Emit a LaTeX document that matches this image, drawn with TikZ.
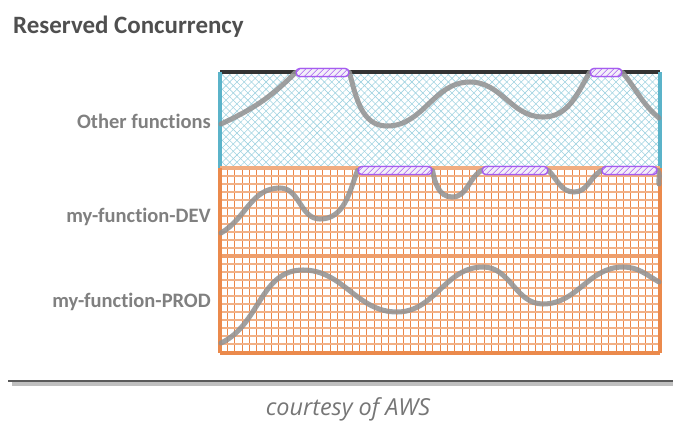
\documentclass[tikz,border=0pt]{standalone}
\usepackage{fontspec}
\setmainfont{Carlito}[Ligatures=NoCommon]
\newfontfamily\creditfont{Open Sans}
\usetikzlibrary{patterns.meta}
\definecolor{titlegray}{HTML}{4F4F4F}
\definecolor{labelgray}{HTML}{808080}
\definecolor{creditgray}{HTML}{767676}
\definecolor{cyanedge}{HTML}{5BB3C9}
\definecolor{cyanhatch}{HTML}{9FD2E0}
\definecolor{orangeedge}{HTML}{E8762D}
\definecolor{orangegrid}{HTML}{EC8647}
\definecolor{orangelight}{HTML}{F2B186}
\definecolor{pilledge}{HTML}{A55CF0}
\definecolor{pillfill}{HTML}{F3EFF9}
\definecolor{loadgray}{HTML}{939393}
\newcommand{\pxu}{0.03cm}

\begin{document}
\begin{tikzpicture}[
  x=\pxu,y=-\pxu,
  title/.style={font=\bfseries\fontsize{21.3}{24}\selectfont,text=titlegray,anchor=west,inner sep=0},
  lane/.style={font=\bfseries\fontsize{17.5}{20}\selectfont,text=labelgray,anchor=east,inner sep=0},
  credit/.style={font=\creditfont\itshape\fontsize{20}{24}\selectfont,text=creditgray,inner sep=0},
  pill/.style={draw=pilledge,line width=1.1pt,rounded corners=3.4pt,minimum height=7pt,inner sep=0,
    preaction={fill=pillfill},pattern={Lines[angle=45,distance=4pt,line width=1pt]},pattern color=pilledge!75},
  load/.style={draw=loadgray,line width=4.3pt,opacity=0.88,line cap=round},
  hatch/.style={pattern={Lines[angle=#1,distance=4.4pt,line width=0.5pt]},pattern color=cyanhatch},
  gridv/.style={orangegrid,line width=0.8pt},
  gridh/.style={orangelight,line width=1.2pt},
  cyanside/.style={cyanedge,line width=3.4pt},
  orangeside/.style={orangeedge!85,line width=3.4pt},
  topline/.style={black!80,line width=3.2pt}
]
  \useasboundingbox (0,0) rectangle (673,421);

  \node[title] (title) at (13,27) {Reserved Concurrency};
  \node[lane] (lother) at (211,121) {Other functions};
  \node[lane] (ldev) at (211,217) {my-function-DEV};
  \node[lane] (lprod) at (211,302) {my-function-PROD};

  \path[hatch=45] (220,72) rectangle (660,168);
  \path[hatch=-45] (220,72) rectangle (660,168);
  \foreach \i in {1,...,59}
    \draw[gridv] (220+\i*7.333,168) -- (220+\i*7.333,353);
  \foreach \y in {176,184,...,344}
    \draw[gridh] (220,\y) -- (660,\y);

  \coordinate (o1) at (322.5,72.5);
  \coordinate (o2) at (606,72.5);
  \coordinate (d1) at (395,170.5);
  \coordinate (d2) at (515,170.5);
  \coordinate (d3) at (629.5,170.5);

  \draw[topline] (220,72) -- (660,72);
  \draw[cyanside] (220,72) -- (220,168);
  \draw[cyanside] (660,72) -- (660,168);
  \draw[orangeside,orangeedge!60] (220,168) -- (660,168);
  \draw[orangeside,orangeedge!70] (220,256) -- (660,256);
  \draw[orangeside] (220,353) -- (660,353);
  \draw[orangeside] (220,168) -- (220,353);
  \draw[orangeside] (660,168) -- (660,353);

  \node[pill,minimum width=45pt] (p1) at (o1) {};
  \node[pill,minimum width=27pt] (p2) at (o2) {};
  \node[pill,minimum width=63pt] (p3) at (d1) {};
  \node[pill,minimum width=56pt] (p4) at (d2) {};
  \node[pill,minimum width=47pt] (p5) at (d3) {};

  \coordinate (os) at (221,124);
  \coordinate (oe) at (659,118);
  \coordinate (ds) at (221,233);
  \coordinate (de) at (659,184);
  \coordinate (ps) at (221,343);
  \coordinate (pe) at (659,282);

  \draw[load] (os) to[out=25,in=225] (p1.west);
  \draw[load] (p1.east) to[out=-75,in=180] (387,126) to[out=0,in=180] (470,82)
    to[out=0,in=180] (543,117) to[out=0,in=240] (p2.west);
  \draw[load] (p2.east) to[out=-50,in=140] (oe);
  \draw[load] (ds) to[out=30,in=180] (280,188) to[out=0,in=180] (320,219)
    to[out=0,in=250] (p3.west);
  \draw[load] (p3.east) to[out=-80,in=180] (452,197) to[out=0,in=210] (p4.west);
  \draw[load] (p4.east) to[out=-45,in=180] (574,192) to[out=0,in=210] (p5.west);
  \draw[load] (p5.east) to[out=-50,in=100] (de);
  \draw[load] (ps) to[out=25,in=180] (303,270) to[out=0,in=180] (397,312)
    to[out=0,in=180] (483,267) to[out=0,in=180] (543,304)
    to[out=0,in=180] (623,267) to[out=0,in=150] (pe);

  \node[pill,minimum width=45pt] at (p1) {};
  \node[pill,minimum width=27pt] at (p2) {};
  \node[pill,minimum width=63pt] at (p3) {};
  \node[pill,minimum width=56pt] at (p4) {};
  \node[pill,minimum width=47pt] at (p5) {};

  \draw[black!25,line width=3pt] (12,384) -- (673,384);
  \draw[black!65,line width=2pt] (8,381) -- (673,381);
  \node[credit] (credit) at (348,409) {courtesy of AWS};
\end{tikzpicture}
\end{document}
